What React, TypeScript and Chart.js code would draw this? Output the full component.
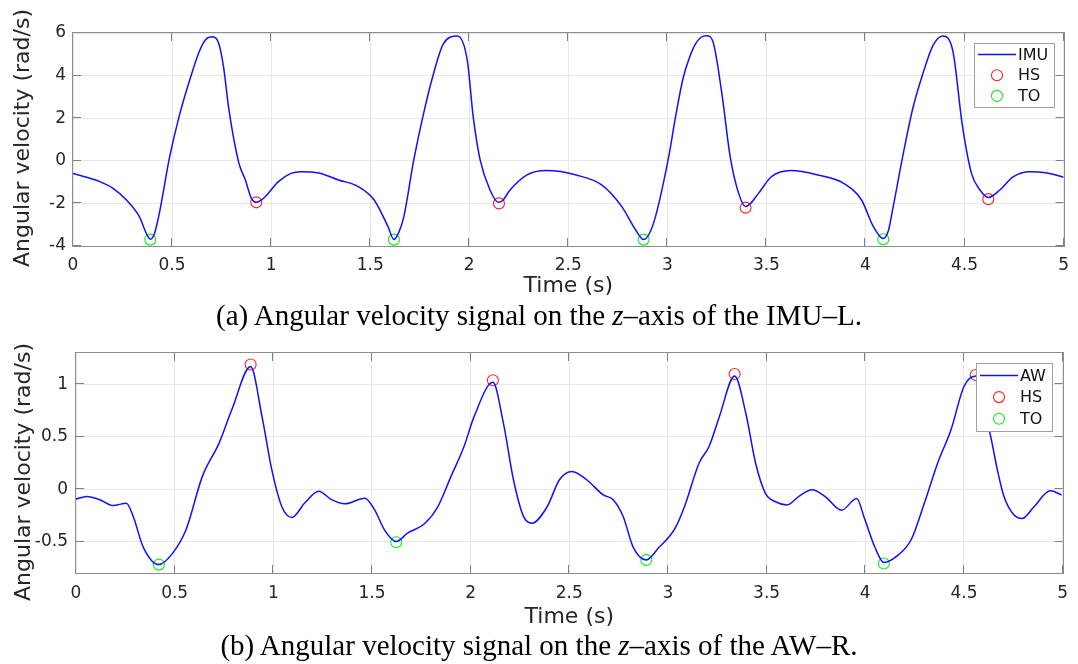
import React, { useEffect, useRef } from 'react';
import { Chart, registerables } from 'chart.js';

Chart.register(...registerables);

// ---------- data ----------
const timeTicks = [0, 0.5, 1, 1.5, 2, 2.5, 3, 3.5, 4, 4.5, 5];
const imuYTicks = [-4, -2, 0, 2, 4, 6];
const awYTicks = [-0.5, 0, 0.5, 1];

const imuTime = [
  0.0, 0.135, 0.2, 0.27, 0.335, 0.37, 0.39, 0.41, 0.436, 0.486, 0.536, 0.586, 0.636, 0.67, 0.705, 0.736,
  0.76, 0.787, 0.837, 0.87, 0.9, 0.925, 0.95, 0.97, 1.037, 1.1, 1.15, 1.24, 1.34, 1.44, 1.52, 1.59, 1.62,
  1.645, 1.67, 1.72, 1.77, 1.82, 1.87, 1.94, 1.99, 2.02, 2.055, 2.105, 2.147, 2.17, 2.206, 2.29, 2.39,
  2.54, 2.67, 2.77, 2.84, 2.88, 2.91, 2.94, 3.01, 3.04, 3.08, 3.11, 3.14, 3.17, 3.2, 3.23, 3.275, 3.317, 3.36,
  3.395, 3.42, 3.46, 3.525, 3.625, 3.76, 3.89, 3.98, 4.04, 4.09, 4.115, 4.14, 4.19, 4.24, 4.29, 4.34,
  4.39, 4.44, 4.49, 4.535, 4.578, 4.62, 4.678, 4.745, 4.83, 4.91, 5.0,
];
const imuValue = [
  -0.6, -0.98, -1.28, -1.84, -2.62, -3.4, -3.68, -3.45, -2.45, 0.1, 2.1, 3.7, 5.1, 5.7, 5.82, 5.5,
  4.4, 2.4, -0.1, -0.9, -1.75, -1.95, -1.85, -1.69, -0.98, -0.59, -0.51, -0.57, -0.9, -1.21, -1.84, -3.09, -3.7,
  -3.35, -2.62, 0.04, 2.24, 4.1, 5.5, 5.86, 4.73, 2.07, 0.04, -1.37, -1.95, -1.85, -1.37, -0.67, -0.46,
  -0.67, -1.14, -2.15, -3.25, -3.7, -3.4, -2.62, 0.35, 2.0, 3.9, 4.8, 5.45, 5.8, 5.87, 5.6, 3.17, 0.2, -1.53,
  -2.15, -2.0, -1.53, -0.75, -0.46, -0.67, -1.06, -1.84, -3.09, -3.65, -3.3, -2.15, 0.3, 2.5, 4.1, 5.4,
  5.86, 5.2, 1.6, -0.59, -1.37, -1.72, -1.37, -0.75, -0.51, -0.56, -0.77,
];
const imuHsTime = [0.925, 2.15, 3.395, 4.62];
const imuHsValue = [-1.95, -2.0, -2.2, -1.8];
const imuToTime = [0.39, 1.62, 2.88, 4.09];
const imuToValue = [-3.7, -3.7, -3.7, -3.68];

const awTime = [
  0.0, 0.054, 0.12, 0.188, 0.255, 0.29, 0.34, 0.42, 0.49, 0.557, 0.64, 0.725, 0.79, 0.885, 0.943, 0.993,
  1.044, 1.094, 1.16, 1.23, 1.295, 1.363, 1.464, 1.514, 1.564, 1.623, 1.68, 1.766, 1.833, 1.9, 1.967,
  2.017, 2.113, 2.166, 2.217, 2.268, 2.31, 2.387, 2.45, 2.513, 2.588, 2.672, 2.722, 2.773, 2.823, 2.89,
  2.957, 3.008, 3.04, 3.083, 3.158, 3.209, 3.26, 3.338, 3.394, 3.444, 3.494, 3.545, 3.604, 3.662, 3.73,
  3.797, 3.88, 3.956, 3.998, 4.048, 4.094, 4.166, 4.233, 4.3, 4.367, 4.435, 4.5, 4.56, 4.636, 4.67,
  4.703, 4.753, 4.795, 4.854, 4.938, 4.995,
];
const awValue = [
  -0.095, -0.07, -0.1, -0.156, -0.134, -0.26, -0.55, -0.72, -0.61, -0.39, 0.12, 0.44, 0.76, 1.17, 0.69, 0.18,
  -0.17, -0.27, -0.13, -0.02, -0.1, -0.14, -0.086, -0.2, -0.39, -0.5, -0.42, -0.33, -0.17, 0.12, 0.41,
  0.69, 1.02, 0.63, 0.09, -0.26, -0.325, -0.17, 0.09, 0.17, 0.09, -0.055, -0.1, -0.26, -0.55, -0.675,
  -0.55, -0.45, -0.36, -0.17, 0.25, 0.41, 0.69, 1.08, 0.73, 0.25, -0.04, -0.12, -0.15, -0.07, -0.005,
  -0.07, -0.2, -0.09, -0.29, -0.55, -0.7, -0.63, -0.48, -0.13, 0.25, 0.57, 0.98, 1.08, 0.5, 0.18,
  -0.07, -0.245, -0.28, -0.17, -0.016, -0.055,
];
const awHsTime = [0.885, 2.113, 3.338, 4.56];
const awHsValue = [1.19, 1.04, 1.1, 1.09];
const awToTime = [0.42, 1.623, 2.89, 4.094];
const awToValue = [-0.72, -0.506, -0.675, -0.71];

// ---------- styling ----------
const FONT = '"DejaVu Sans", Verdana, sans-serif';
const TEXT = '#262626';
const GRID = '#e8e8e8';

const toPoints = (xs: number[], ys: number[]) => xs.map((x, i) => ({ x, y: ys[i] }));

const framePlugin = {
  id: 'matlabFrame',
  afterDatasetsDraw(chart: any) {
    const { ctx, chartArea: a, scales } = chart;
    const L = 8;
    ctx.save();
    ctx.lineWidth = 1;
    ctx.strokeStyle = '#7f7f7f';
    ctx.beginPath();
    scales.x.ticks.forEach((t: any) => {
      const px = Math.round(scales.x.getPixelForValue(t.value)) - 0.5;
      ctx.moveTo(px, a.bottom);
      ctx.lineTo(px, a.bottom - L);
      ctx.moveTo(px, a.top);
      ctx.lineTo(px, a.top + L);
    });
    scales.y.ticks.forEach((t: any) => {
      const py = Math.round(scales.y.getPixelForValue(t.value)) - 0.5;
      ctx.moveTo(a.left, py);
      ctx.lineTo(a.left + L, py);
      ctx.moveTo(a.right, py);
      ctx.lineTo(a.right - L, py);
    });
    ctx.stroke();
    ctx.strokeStyle = '#8c8c8c';
    ctx.strokeRect(Math.round(a.left) - 0.5, Math.round(a.top) - 0.5, Math.round(a.width) + 1, Math.round(a.height) + 1);
    ctx.restore();
  },
};

const yTitlePlugin = {
  id: 'yTitle',
  afterDraw(chart: any, _args: any, opts: any) {
    const { ctx } = chart;
    ctx.save();
    ctx.translate(opts.x, opts.y);
    ctx.rotate(-Math.PI / 2);
    ctx.font = `${opts.size}px ${FONT}`;
    ctx.fillStyle = TEXT;
    ctx.textAlign = 'center';
    ctx.textBaseline = 'middle';
    ctx.fillText(opts.text, 0, 0);
    ctx.restore();
  },
};

const legendPlugin = {
  id: 'boxLegend',
  afterDraw(chart: any, _args: any, opts: any) {
    const { ctx, chartArea: a } = chart;
    const items = chart.data.datasets;
    ctx.save();
    ctx.font = `16px ${FONT}`;
    const textW = Math.max(...items.map((d: any) => ctx.measureText(d.label).width));
    const w = Math.round(44 + textW + 6);
    const h = opts.height;
    const x0 = Math.round(a.right - opts.right - w);
    const y0 = Math.round(a.top + opts.top);
    ctx.fillStyle = '#ffffff';
    ctx.fillRect(x0, y0, w, h);
    ctx.strokeStyle = '#a0a0a0';
    ctx.lineWidth = 1;
    ctx.strokeRect(x0 + 0.5, y0 + 0.5, w, h);
    items.forEach((d: any, i: number) => {
      const cy = y0 + opts.firstRow + i * opts.rowGap;
      if (d.showLine === false) {
        ctx.beginPath();
        ctx.arc(x0 + 23, cy, 5.5, 0, Math.PI * 2);
        ctx.strokeStyle = d.borderColor;
        ctx.lineWidth = 1.1;
        ctx.stroke();
      } else {
        ctx.beginPath();
        ctx.moveTo(x0 + 4, cy);
        ctx.lineTo(x0 + 42, cy);
        ctx.strokeStyle = d.borderColor;
        ctx.lineWidth = 1.5;
        ctx.stroke();
      }
      ctx.fillStyle = '#111111';
      ctx.textAlign = 'left';
      ctx.textBaseline = 'middle';
      ctx.fillText(d.label, x0 + 44, cy + 1);
    });
    ctx.restore();
  },
};

function buildConfig(o: any): any {
  const markerBase = {
    showLine: false,
    pointRadius: 5.5,
    pointHoverRadius: 5.5,
    pointBorderWidth: 1.1,
    pointBackgroundColor: 'rgba(0,0,0,0)',
    backgroundColor: 'rgba(0,0,0,0)',
    clip: false,
  };
  return {
    type: 'line',
    data: {
      datasets: [
        {
          label: o.lineLabel,
          data: toPoints(o.time, o.value),
          borderColor: '#1010ff',
          borderWidth: 1.5,
          pointRadius: 0,
          cubicInterpolationMode: 'monotone',
          fill: false,
        },
        {
          ...markerBase,
          label: 'HS',
          data: toPoints(o.hsTime, o.hsValue),
          borderColor: '#ff2020',
          pointBorderColor: '#ff2020',
        },
        {
          ...markerBase,
          label: 'TO',
          data: toPoints(o.toTime, o.toValue),
          borderColor: '#10ee10',
          pointBorderColor: '#10ee10',
        },
      ],
    },
    options: {
      responsive: false,
      animation: false,
      devicePixelRatio: 1,
      events: [],
      layout: { padding: { top: o.padTop, right: o.padRight, left: 0, bottom: 0 } },
      plugins: {
        legend: { display: false },
        tooltip: { enabled: false },
        boxLegend: o.legend,
        yTitle: { text: 'Angular velocity (rad/s)', x: o.yTitleX, y: o.yTitleY, size: 22 },
      },
      scales: {
        x: {
          type: 'linear',
          min: 0,
          max: 5,
          afterBuildTicks: (s: any) => {
            s.ticks = timeTicks.map((v) => ({ value: v }));
          },
          afterFit: (s: any) => {
            s.height = o.xHeight;
          },
          grid: { color: GRID, lineWidth: 1, drawTicks: false },
          border: { display: false },
          ticks: {
            padding: o.xTickPad,
            color: TEXT,
            font: { family: FONT, size: 17 },
            maxRotation: 0,
            autoSkip: false,
            callback: (v: any) => String(v),
          },
          title: {
            display: true,
            text: 'Time (s)',
            color: TEXT,
            font: { family: FONT, size: 22 },
            padding: { top: 0, bottom: o.xTitlePad },
          },
        },
        y: {
          type: 'linear',
          min: o.yMin,
          max: o.yMax,
          afterBuildTicks: (s: any) => {
            s.ticks = o.yTicks.map((v: number) => ({ value: v }));
          },
          afterFit: (s: any) => {
            s.width = o.yWidth;
          },
          grid: { color: GRID, lineWidth: 1, drawTicks: false },
          border: { display: false },
          ticks: {
            padding: o.yTickPad,
            color: TEXT,
            font: { family: FONT, size: 17 },
            callback: (v: any) => String(v),
          },
        },
      },
    },
    plugins: [framePlugin, yTitlePlugin, legendPlugin],
  };
}

function ChartCanvas({ config, top, height }: { config: any; top: number; height: number }) {
  const ref = useRef<HTMLCanvasElement | null>(null);
  useEffect(() => {
    if (!ref.current) return;
    const chart = new Chart(ref.current, config);
    return () => chart.destroy();
  }, [config]);
  return (
    <canvas
      ref={ref}
      width={1078}
      height={height}
      style={{ position: 'absolute', left: 0, top, width: 1078, height, display: 'block' }}
    />
  );
}

const imuConfig = buildConfig({
  lineLabel: 'IMU',
  time: imuTime,
  value: imuValue,
  hsTime: imuHsTime,
  hsValue: imuHsValue,
  toTime: imuToTime,
  toValue: imuToValue,
  yMin: -4,
  yMax: 6,
  yTicks: imuYTicks,
  padTop: 33,
  padRight: 7,
  yWidth: 73,
  xHeight: 54,
  xTickPad: 9,
  yTickPad: 7,
  xTitlePad: 1,
  yTitleX: 23,
  yTitleY: 138,
  legend: { right: 10, top: 10, height: 64, firstRow: 11.5, rowGap: 20.7 },
});

const awConfig = buildConfig({
  lineLabel: 'AW',
  time: awTime,
  value: awValue,
  hsTime: awHsTime,
  hsValue: awHsValue,
  toTime: awToTime,
  toValue: awToValue,
  yMin: -0.8,
  yMax: 1.3,
  yTicks: awYTicks,
  padTop: 23,
  padRight: 9,
  yWidth: 76,
  xHeight: 57,
  xTickPad: 10,
  yTickPad: 8,
  xTitlePad: 0,
  yTitleX: 24,
  yTitleY: 142,
  legend: { right: 11, top: 10, height: 68, firstRow: 12.5, rowGap: 21.6 },
});

const captionStyle: React.CSSProperties = {
  position: 'absolute',
  left: 0,
  width: 1078,
  textAlign: 'center',
  fontFamily: '"Liberation Serif", "Times New Roman", serif',
  fontSize: 29,
  lineHeight: '32px',
  color: '#000',
  whiteSpace: 'nowrap',
};

export default function App() {
  return (
    <div
      style={{
        position: 'absolute',
        left: 0,
        top: 0,
        width: 1078,
        height: 664,
        background: '#ffffff',
        overflow: 'hidden',
      }}
    >
      <ChartCanvas config={imuConfig} top={0} height={300} />
      <ChartCanvas config={awConfig} top={330} height={300} />
      <div style={{ ...captionStyle, top: 299 }}>
        (a) Angular velocity signal on the <i>z</i>–axis of the IMU–L.
      </div>
      <div style={{ ...captionStyle, top: 629 }}>
        (b) Angular velocity signal on the <i>z</i>–axis of the AW–R.
      </div>
    </div>
  );
}
